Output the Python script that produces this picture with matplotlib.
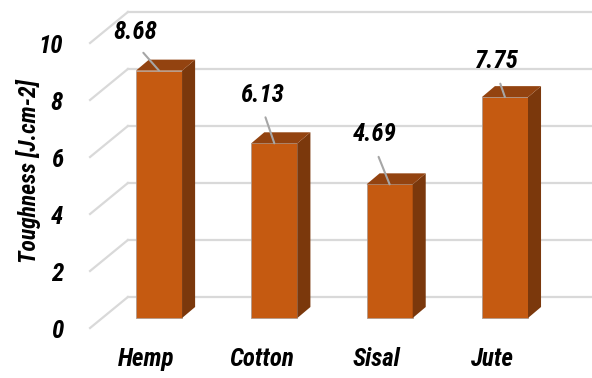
import matplotlib.pyplot as plt
from matplotlib.patches import Polygon

# fibre toughness values
fibres = ['Hemp', 'Cotton', 'Sisal', 'Jute']
toughness = [8.68, 6.13, 4.69, 7.75]
y_ticks = [0, 2, 4, 6, 8, 10]

# label offsets (points) for the value call-outs
label_offsets = [(-17, 28), (-9, 35), (-11, 36), (-6, 26)]

FONT = dict(family=['Roboto Condensed', 'DejaVu Sans Condensed', 'Roboto', 'DejaVu Sans'],
            fontweight='bold', fontstyle='italic', fontstretch='condensed', color='black')

FRONT = '#C55A11'
TOP = '#934310'
SIDE = '#7B380C'
GRID = '#d9d9d9'

width = 0.40
# depth of a bar (x, y in data units) and of the whole floor
bar_dx, bar_dy = 0.113, 0.386
wall_x0, wall_dy = -0.27, 0.737
floor_x0, floor_dy = -0.598, -0.351

fig = plt.figure(figsize=(5.92, 3.78), dpi=100)
ax = fig.add_axes([0, 0, 1, 1])
ax.set_xlim(-1.379, 3.755)
ax.set_ylim(-2.105, 11.158)
ax.axis('off')

# back wall grid + left wall diagonals
for t in y_ticks:
    ax.plot([wall_x0, 3.755], [t + wall_dy, t + wall_dy], color=GRID, lw=1.6, zorder=1)
    ax.plot([floor_x0, wall_x0], [t + floor_dy, t + wall_dy], color=GRID, lw=1.6, zorder=1)
    ax.text(-0.833, t - 0.45, str(t), ha='right', va='center', fontsize=18, **FONT)

x = list(range(len(fibres)))
ax.bar(x, toughness, width=width, color=FRONT, edgecolor='#b09a8c', linewidth=0.6, zorder=3)

for i, v in zip(x, toughness):
    x0, x1 = i - width / 2, i + width / 2
    side = [(x1, 0), (x1 + bar_dx, bar_dy), (x1 + bar_dx, v + bar_dy), (x1, v)]
    top = [(x0, v), (x1, v), (x1 + bar_dx, v + bar_dy), (x0 + bar_dx, v + bar_dy)]
    ax.add_patch(Polygon(side, closed=True, facecolor=SIDE, edgecolor='none', zorder=3))
    ax.add_patch(Polygon(top, closed=True, facecolor=TOP, edgecolor='none', zorder=3))

for i, v, off in zip(x, toughness, label_offsets):
    ax.annotate(f'{v:.2f}', xy=(i, v), xytext=off, textcoords='offset points',
                ha='center', va='center', fontsize=18, zorder=5,
                arrowprops=dict(arrowstyle='-', color='#a6a6a6', lw=1.5,
                                relpos=(0.5, 0), shrinkA=6, shrinkB=0),
                **FONT)

for i, name in zip(x, fibres):
    ax.text(i - 0.11, -1.44, name, ha='center', va='center', fontsize=18, **FONT)

ax.text(-1.136, 5.16, 'Toughness [J.cm-2]', rotation=90, ha='center', va='center',
        fontsize=17, **FONT)

fig.savefig('out.png', dpi=100)
